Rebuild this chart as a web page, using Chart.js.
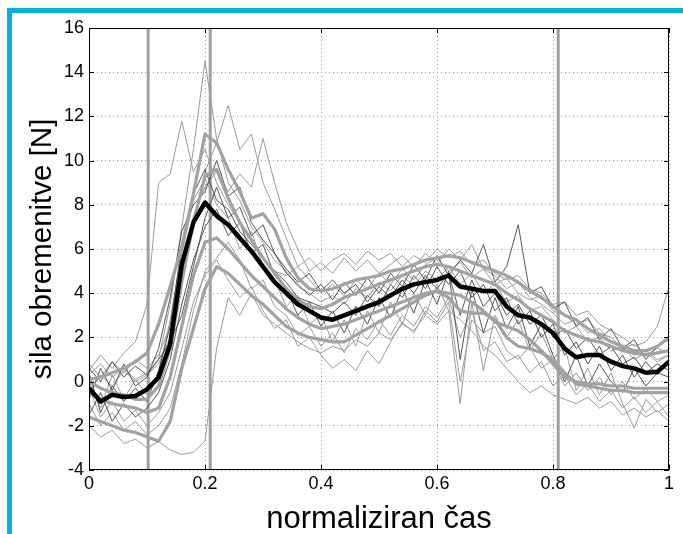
<!DOCTYPE html>
<html>
<head>
<meta charset="utf-8">
<script src="https://cdn.jsdelivr.net/npm/chart.js@4.4.1/dist/chart.umd.min.js"></script>
<style>
  html, body { margin: 0; padding: 0; background: #fff; }
  #wrap { position: relative; width: 683px; height: 534px; overflow: hidden; }
  #frame {
    position: absolute; left: 7px; top: 8px; right: 0; bottom: 0;
    border-top: 5px solid #05b1e1; border-left: 5px solid #05b1e1;
    pointer-events: none;
  }
  canvas { position: absolute; left: 0; top: 0; }
</style>
</head>
<body>
<div id="wrap">
  <canvas id="forceChart" width="683" height="534"></canvas>
  <div id="frame"></div>
</div>
<script>
// normalised time, 51 samples from 0 to 1
const time = Array.from({ length: 51 }, (_, i) => i / 50);

const xTicks = [0, 0.2, 0.4, 0.6, 0.8, 1];
const yTicks = [-4, -2, 0, 2, 4, 6, 8, 10, 12, 14, 16];
const phaseMarks = [0.102, 0.209, 0.809];

// mean curve (thick black)
const meanForce = [
  -0.3, -0.9, -0.6, -0.7, -0.65, -0.35, 0.2, 1.7, 5.3, 7.2,
  8.1, 7.5, 7.1, 6.5, 5.9, 5.2, 4.5, 4.0, 3.5, 3.2,
  2.9, 2.8, 3.0, 3.2, 3.4, 3.6, 3.9, 4.2, 4.4, 4.5,
  4.6, 4.8, 4.3, 4.2, 4.1, 4.1, 3.4, 3.0, 2.9, 2.6,
  2.2, 1.5, 1.1, 1.2, 1.2, 0.9, 0.7, 0.6, 0.4, 0.45,
  0.9
];

// thick grey curves
const bandHigh = [
  0.1, 0.2, 0.4, 0.6, 0.9, 1.3, 2.6, 4.3, 6.1, 8.5,
  11.2, 10.8, 9.6, 8.6, 7.4, 7.6, 6.9, 5.6, 4.7, 4.2,
  4.1, 4.2, 4.4, 4.6, 4.7, 4.8, 5.0, 5.1, 5.3, 5.5,
  5.6, 5.7, 5.6, 5.4, 5.2, 5.0, 4.8, 4.5, 4.1, 3.8,
  3.4, 3.0, 2.8, 2.4, 2.1, 1.8, 1.6, 1.4, 1.4, 1.6,
  2.0
];
const bandMid = [
  0.0, -0.3, -0.5, -0.6, -0.8, -0.8, -0.2, 1.5, 4.5, 7.2,
  9.3, 9.6, 8.3, 7.2, 6.4, 5.6, 4.9, 4.2, 3.7, 3.4,
  3.3, 3.5, 3.8, 4.0, 4.2, 4.4, 4.6, 4.8, 5.0, 5.2,
  5.3, 5.2, 5.0, 4.8, 4.6, 4.4, 4.0, 3.7, 3.3, 3.0,
  2.7, 2.3, 2.1, 1.9, 1.8, 1.6, 1.4, 1.3, 1.2, 1.3,
  1.4
];
const bandLow = [
  -1.6, -1.8, -2.0, -2.2, -2.3, -2.5, -2.7, -1.8, 0.6, 2.4,
  4.2, 5.2, 4.9, 4.4, 3.9, 3.5, 3.0, 2.5, 2.2, 2.0,
  1.9, 1.8, 1.8, 2.1, 2.4, 2.7, 3.0, 3.3, 3.6, 3.9,
  4.1, 3.8, 3.2, 3.1, 3.1, 2.8, 2.0, 1.6, 1.5, 1.3,
  1.0, 0.4, -0.1, -0.2, -0.3, -0.4, -0.4, -0.5, -0.5, -0.5,
  -0.5
];
const bandLower = [
  -0.5, -0.8, -1.0, -1.1, -1.2, -1.4, -1.2, 0.2, 2.5, 4.8,
  6.3, 6.5, 6.0, 5.4, 4.8, 4.3, 3.8, 3.3, 2.9, 2.6,
  2.4, 2.5, 2.6, 2.8, 3.0, 3.2, 3.4, 3.6, 3.8, 4.0,
  4.1, 4.0, 3.9, 3.6, 3.2, 2.7, 2.5, 2.3, 1.9, 1.4,
  0.8, 0.2, 0.0, -0.1, -0.1, -0.2, -0.2, -0.3, -0.3, -0.3,
  -0.3
];

// single trials (thin)
const trial1 = [
  0.3, 0.8, 0.2, 0.6, 0.1, 0.4, 1.0, 3.5, 7.0, 10.5,
  14.5, 11.0, 9.0, 8.2, 7.0, 6.3, 5.5, 5.0, 4.3, 4.0,
  3.6, 3.9, 3.5, 4.2, 3.8, 4.5, 4.1, 4.8, 4.3, 5.0,
  4.6, 5.2, 4.4, 4.9, 4.0, 4.4, 3.6, 3.9, 3.2, 3.4,
  2.8, 2.2, 2.5, 1.8, 2.0, 1.4, 1.6, 1.0, 1.3, 0.9,
  1.2
];
const trial2 = [
  0.5, 1.2, 0.6, 1.3, 1.8, 3.5, 9.0, 9.4, 11.8, 9.5,
  10.5, 9.0, 8.0, 7.2, 6.5, 5.6, 5.0, 4.8, 5.2, 5.6,
  5.0, 5.5, 5.8, 5.3, 5.9, 5.5, 5.8, 5.2, 5.7, 5.4,
  6.0, 5.6, 5.9, 5.3, 5.5, 4.9, 4.6, 4.8, 4.2, 4.0,
  3.5, 3.6, 3.0, 3.2, 2.6, 2.3, 2.0, 1.6, 1.8, 2.5,
  4.3
];
const trial3 = [
  -0.5, 0.3, -0.2, 0.5, 0.0, 0.3, 0.8, 2.0, 4.5, 7.0,
  9.5, 10.8, 12.5, 10.5, 11.2, 9.0, 7.8, 6.5, 5.2, 4.6,
  4.0, 4.4, 3.9, 4.6, 4.2, 4.9, 4.4, 5.1, 4.6, 5.3,
  5.6, 5.0, 5.4, 4.7, 5.1, 4.4, 4.7, 4.0, 3.7, 3.9,
  3.2, 3.0, 2.6, 2.8, 2.2, 2.0, 1.5, 1.7, 1.2, 1.5,
  1.3
];
const trial4 = [
  0.8, 0.2, 0.9, 0.4, 1.0, 0.6, 1.2, 2.5, 5.0, 7.5,
  8.8, 9.5, 8.6, 9.4, 8.8, 11.0, 9.0, 7.2, 6.0, 5.0,
  5.4, 4.9, 5.6, 5.0, 5.5, 4.9, 5.3, 5.7, 5.2, 5.8,
  5.3, 6.0, 5.5, 6.2, 5.1, 4.8, 4.2, 4.5, 3.8, 3.5,
  3.1, 2.6, 2.8, 2.2, 2.4, 1.8, 1.5, 1.2, 1.4, 1.0,
  1.2
];
const trial5 = [
  -2.0, -2.5, -2.2, -2.8, -2.6, -3.0, -2.7, -3.1, -3.3, -3.2,
  -2.7, 1.5, 3.8, 3.0, 4.0, 3.0, 2.6, 2.2, 1.8, 1.5,
  1.3, 1.6, 1.4, 1.9, 1.6, 2.2, 1.9, 2.6, 2.3, 3.0,
  2.6, 3.2, 2.8, 2.3, 1.6, 1.2, 0.6, 0.0, -0.5, -0.2,
  -0.6, -0.8, -1.0, -0.7, -1.2, -0.9, -1.5, -1.2, -1.6, -1.3,
  -1.8
];
const trial6 = [
  -1.5, -0.5, -1.8, -1.0, -1.6, -1.2, -0.5, 1.0, 3.5, 5.5,
  7.0, 7.8, 6.6, 7.2, 5.8, 6.2, 4.8, 4.2, 3.0, 3.6,
  2.5, 3.2, 2.2, 3.4, 2.6, 3.8, 2.9, 4.2, 3.1, 4.6,
  3.5, 5.0, 1.0, 4.2, 2.2, 3.8, 2.4, 3.4, 1.6, 2.6,
  1.2, 0.0, 1.2, -0.2, 0.8, 0.0, -0.5, 0.6, -0.2, 0.4,
  0.2
];
const trial7 = [
  0.0, -1.2, 0.3, -0.8, 0.1, -0.6, 0.4, 2.8, 5.8, 8.2,
  9.2, 8.0, 7.4, 6.0, 6.8, 5.2, 4.6, 3.4, 3.9, 2.6,
  3.0, 1.8, 2.8, 1.6, 3.2, 2.2, 3.6, 2.6, 4.0, 3.0,
  4.4, 3.2, -1.0, 3.6, 0.5, 3.0, 2.0, 2.8, 1.4, 2.2,
  1.0, 1.6, -0.4, 0.6, -0.6, 0.4, -1.0, -2.1, -0.8, -1.4,
  -1.0
];
const trial8 = [
  0.4, -1.4, -0.2, -0.9, -0.3, -0.9, 0.5, 2.5, 6.2, 8.5,
  9.6, 8.2, 7.8, 6.8, 6.2, 5.6, 5.0, 4.5, 3.8, 3.6,
  3.4, 3.1, 3.6, 3.0, 3.9, 3.4, 4.4, 3.8, 4.8, 4.2,
  5.2, 4.4, 5.0, 3.8, 4.4, 3.2, 3.8, 2.6, 3.2, 2.0,
  2.6, 1.2, 1.8, 0.8, 1.6, 0.5, 1.2, 0.2, 0.9, 0.3,
  1.0
];
const trial9 = [
  -0.8, 0.6, -0.4, 0.8, -0.2, 0.2, 1.5, 3.8, 6.8, 8.0,
  8.6, 10.0, 8.4, 8.8, 7.2, 6.4, 5.8, 4.9, 4.4, 3.9,
  4.4, 3.7, 4.5, 3.9, 4.7, 4.0, 4.9, 4.3, 5.3, 4.6,
  5.7, 4.8, 5.5, 4.9, 6.2, 4.5, 5.2, 7.1, 4.0, 4.3,
  3.3, 3.6, 2.5, 2.9, 1.9, 2.4, 1.5, 1.9, 1.0, 1.6,
  1.9
];
const trial10 = [
  -1.0, -2.0, -1.4, -2.2, -1.8, -2.4, -2.0, -1.2, 0.8, 3.2,
  5.0, 5.6, 6.3, 5.5, 4.2, 4.6, 3.4, 3.0, 2.1, 2.5,
  1.6, 2.2, 1.3, 2.4, 1.9, 2.8, 2.1, 3.0, 2.5, 3.4,
  2.9, 3.8, 2.0, 3.2, 1.4, 1.8, 0.9, 1.2, 0.4, 0.9,
  -0.2, 0.3, -0.6, -0.1, -0.9, -0.4, -1.2, -0.7, -1.4, -0.9,
  -1.6
];
const trial11 = [
  0.6, 0.0, 0.9, 0.2, 0.7, 0.3, 1.0, 1.8, 3.0, 5.2,
  7.4, 8.8, 7.4, 7.9, 6.6, 7.1, 5.8, 5.1, 4.5, 4.9,
  4.1, 4.6, 4.0, 4.4, 3.6, 4.3, 3.8, 4.6, 4.0, 4.8,
  4.2, 4.9, 3.0, 4.6, 3.4, 4.0, 3.0, 3.5, 2.6, 3.0,
  2.0, 2.4, 1.5, 2.0, 1.2, 1.6, 0.8, 1.1, 0.4, 0.8,
  0.5
];
const trial12 = [
  -0.3, -1.6, -0.9, -1.8, -1.3, -2.0, -1.4, -0.5, 1.5, 3.6,
  4.8, 5.5, 4.6, 3.8, 4.3, 3.2, 2.4, 2.8, 1.6, 2.0,
  1.2, 0.6, 1.0, 0.5, 1.4, 0.8, 1.8, 2.7, 2.2, 3.2,
  2.7, 3.6, 0.0, 2.8, 2.2, 2.5, 1.4, 1.0, 1.6, 0.6,
  1.0, -0.2, 0.4, -0.4, 0.2, -0.6, 0.0, -0.8, -0.3, -0.9,
  -0.6
];

const lightTrials = [trial1, trial2, trial3, trial4, trial5, trial7, trial10, trial12];
const darkTrials = [trial6, trial8, trial9, trial11];
const bands = [bandHigh, bandMid, bandLow, bandLower];

const yMin = -4, yMax = 16;

function toPoints(values) {
  return values.map((v, i) => ({ x: time[i], y: v }));
}

const datasets = [];

datasets.push({
  data: toPoints(meanForce),
  borderColor: '#000',
  borderWidth: 4.5,
  order: 0
});

bands.forEach(b => datasets.push({
  data: toPoints(b),
  borderColor: '#a2a2a2',
  borderWidth: 3.2,
  order: 1
}));

darkTrials.forEach(t => datasets.push({
  data: toPoints(t),
  borderColor: '#444',
  borderWidth: 0.9,
  order: 2
}));

lightTrials.forEach(t => datasets.push({
  data: toPoints(t),
  borderColor: '#9a9a9a',
  borderWidth: 1,
  order: 3
}));

phaseMarks.forEach(m => datasets.push({
  data: [{ x: m, y: yMin }, { x: m, y: yMax }],
  borderColor: '#a0a0a0',
  borderWidth: 3,
  order: 4
}));

// MATLAB style box with inward ticks
const axisBox = {
  id: 'axisBox',
  afterDatasetsDraw(chart) {
    const { ctx, chartArea: a, scales: { x, y } } = chart;
    ctx.save();
    ctx.strokeStyle = '#000';
    ctx.lineWidth = 1;
    ctx.strokeRect(a.left + 0.5, a.top + 0.5, a.right - a.left - 1, a.bottom - a.top - 1);
    ctx.beginPath();
    xTicks.forEach(v => {
      const px = Math.round(x.getPixelForValue(v)) + 0.5;
      ctx.moveTo(px, a.bottom); ctx.lineTo(px, a.bottom - 5);
      ctx.moveTo(px, a.top); ctx.lineTo(px, a.top + 5);
    });
    yTicks.forEach(v => {
      const py = Math.round(y.getPixelForValue(v)) + 0.5;
      ctx.moveTo(a.left, py); ctx.lineTo(a.left + 5, py);
      ctx.moveTo(a.right, py); ctx.lineTo(a.right - 5, py);
    });
    ctx.stroke();
    ctx.restore();
  }
};

const font = 'Liberation Sans, Arial, Helvetica, sans-serif';

new Chart(document.getElementById('forceChart'), {
  type: 'line',
  data: { datasets },
  options: {
    responsive: false,
    animation: false,
    events: [],
    layout: { padding: { left: 0, right: 14, top: 28, bottom: 0 } },
    elements: {
      point: { radius: 0 },
      line: { tension: 0, borderJoinStyle: 'round', fill: false }
    },
    plugins: { legend: { display: false }, tooltip: { enabled: false } },
    scales: {
      x: {
        type: 'linear',
        min: 0,
        max: 1,
        afterFit(scale) { scale.height = 64; },
        afterBuildTicks(scale) { scale.ticks = xTicks.map(v => ({ value: v })); },
        ticks: {
          padding: 3,
          color: '#000',
          font: { family: font, size: 18 },
          maxRotation: 0,
          callback: v => String(Math.round(v * 10) / 10)
        },
        grid: { color: '#9a9a9a', lineWidth: 1, drawTicks: false },
        border: { display: false, dash: [1, 3] },
        title: {
          display: true,
          text: 'normaliziran čas',
          color: '#000',
          font: { family: font, size: 31 },
          padding: { top: 0, bottom: -4 }
        }
      },
      y: {
        type: 'linear',
        min: yMin,
        max: yMax,
        afterFit(scale) { scale.width = 89; },
        afterBuildTicks(scale) { scale.ticks = yTicks.map(v => ({ value: v })); },
        ticks: {
          padding: 5,
          color: '#000',
          font: { family: font, size: 18 }
        },
        grid: { color: '#9a9a9a', lineWidth: 1, drawTicks: false },
        border: { display: false, dash: [1, 3] },
        title: {
          display: true,
          text: 'sila obremenitve [N]',
          color: '#000',
          font: { family: font, size: 29.5 },
          padding: { top: 25, bottom: 0 }
        }
      }
    }
  },
  plugins: [axisBox]
});
</script>
</body>
</html>
